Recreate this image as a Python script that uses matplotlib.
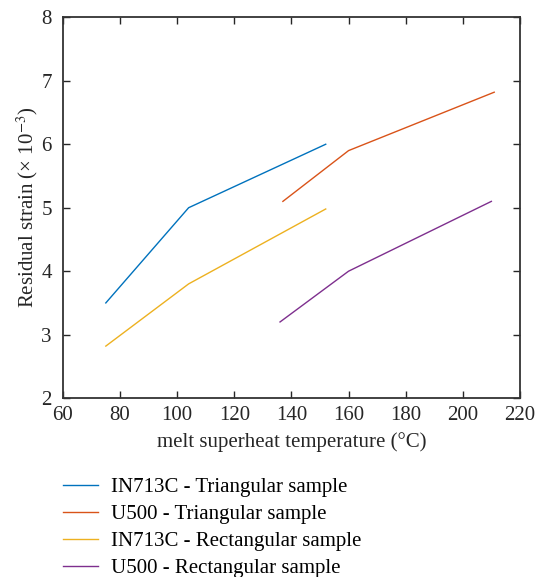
import matplotlib
matplotlib.use("Agg")
import matplotlib.pyplot as plt

plt.rcParams['font.family'] = ['Liberation Serif', 'DejaVu Serif']
plt.rcParams['mathtext.fontset'] = 'stix'

# residual strain vs melt superheat temperature
in713c_tri_t = [75, 104, 152]
in713c_tri_s = [3.5, 5.0, 6.0]
u500_tri_t = [137, 160, 211]
u500_tri_s = [5.1, 5.9, 6.82]
in713c_rect_t = [75, 104, 152]
in713c_rect_s = [2.82, 3.8, 4.98]
u500_rect_t = [136, 160, 210]
u500_rect_s = [3.2, 4.0, 5.1]

labels = ['IN713C - Triangular sample', 'U500 - Triangular sample',
          'IN713C - Rectangular sample', 'U500 - Rectangular sample']
colors = ['#0072BD', '#D95319', '#EDB120', '#7E2F8E']

fig = plt.figure(figsize=(5.36, 5.77), dpi=100)
ax = fig.add_axes([0.1175, 0.31, 0.8525, 0.66])

series = [(in713c_tri_t, in713c_tri_s), (u500_tri_t, u500_tri_s),
          (in713c_rect_t, in713c_rect_s), (u500_rect_t, u500_rect_s)]
for (t, s), lab, c in zip(series, labels, colors):
    ax.plot(t, s, color=c, lw=1.0, label=lab)

ax.set_xlim(60, 220)
ax.set_ylim(2, 8)
ax.set_xticks(range(60, 221, 20))
ax.set_yticks(range(2, 9))
ax.tick_params(direction='in', top=True, right=True, length=5, width=1.0,
               labelsize=15, colors='#262626')
ax.tick_params(axis='x', pad=6)
ax.tick_params(axis='y', pad=8)
for sp in ax.spines.values():
    sp.set_linewidth(1.3)
    sp.set_color('#333333')

ax.set_xlabel('melt superheat temperature (°C)', fontsize=15, color='#262626', labelpad=5)
ax.set_ylabel('Residual strain (× 10$^{-3}$)', fontsize=15, color='#262626', labelpad=1)

fig.legend(loc='upper left', bbox_to_anchor=(0.117, 0.172), frameon=False,
           fontsize=15, handlelength=1.7, handletextpad=0.6, labelspacing=0.35,
           borderaxespad=0, borderpad=0)

fig.savefig('out.png', dpi=100)
